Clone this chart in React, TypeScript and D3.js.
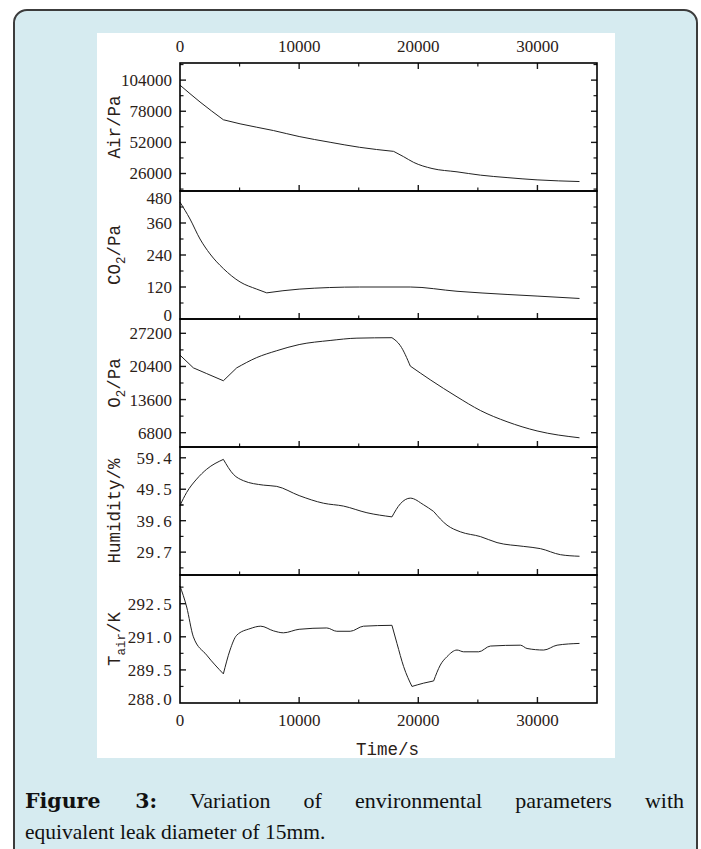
import { useLayoutEffect, useRef, useState } from "react";
import * as d3 from "d3";

// x axis
const timeTicks = [0, 10000, 20000, 30000];
const timeMinor = [5000, 15000, 25000];

// Air pressure
const airTime = [0, 1680, 3640, 5040, 7840, 10000, 12600, 15070, 17930, 18770, 19610, 21150, 23250, 25210, 27450, 29970, 33530];
const airPa = [99800, 85750, 70900, 67500, 61900, 56900, 52100, 47900, 44500, 40050, 35300, 30200, 27400, 24650, 22600, 20700, 19300];
const airTicks = [26000, 52000, 78000, 104000];
const airCorners = [3640, 17930];

// CO2 partial pressure
const co2Time = [0, 840, 1680, 2520, 3640, 5040, 6440, 7280, 10000, 15070, 19330, 23250, 27450, 29970, 33530];
const co2Pa = [438, 375, 300, 244, 189, 139, 112, 98, 112, 120, 120, 104, 92, 86, 77];
const co2Ticks = [0, 120, 240, 360, 480];
const co2Corners = [7280];

// O2 partial pressure
const o2Time = [0, 1120, 2240, 3640, 4760, 6440, 8120, 10000, 12600, 14850, 17790, 18490, 19330, 21000, 23250, 25210, 27450, 29970, 33530];
const o2Pa = [22720, 20110, 18930, 17460, 20110, 22220, 23630, 24890, 25730, 26210, 26300, 24680, 20470, 17670, 14160, 11360, 9050, 7160, 5750];
const o2Ticks = [6800, 13600, 20400, 27200];
const o2Corners = [1120, 3640, 4760, 17790, 19330];

// Relative humidity
const humTime = [0, 560, 1400, 2240, 3640, 4480, 5320, 7000, 8120, 10000, 12040, 13720, 15690, 17790, 18490, 19330, 20450, 21290, 22410, 23530, 25210, 26610, 28850, 30250, 31930, 33530];
const humPct = [44.4, 48.5, 52.7, 55.8, 58.9, 54.2, 52.2, 50.8, 50.4, 47.5, 45.1, 44.2, 42.1, 40.8, 44.9, 46.7, 44.6, 42.5, 38.2, 36.1, 34.6, 32.7, 31.5, 30.8, 28.9, 28.4];
const humTicks = [29.7, 39.6, 49.5, 59.4];
const humCorners = [3640, 17790, 21290];

// Air temperature
const tempTime = [0, 560, 1120, 2240, 3640, 4200, 4760, 5880, 6780, 7840, 8680, 10000, 12320, 13160, 14290, 15400, 17790, 18210, 18770, 19470, 20450, 21290, 21850, 22410, 23250, 23810, 25070, 26050, 28570, 29130, 30530, 31650, 33530];
const tempK = [293.3, 292.35, 291.0, 290.17, 289.32, 290.4, 291.07, 291.37, 291.48, 291.27, 291.18, 291.34, 291.4, 291.25, 291.25, 291.48, 291.52, 290.7, 289.65, 288.75, 288.9, 289.0, 289.72, 290.1, 290.4, 290.32, 290.32, 290.58, 290.62, 290.47, 290.4, 290.62, 290.7];
const tempTicks = [288.0, 289.5, 291.0, 292.5];
const tempCorners = [3640, 17790, 19470, 21290];

const W = 701;
const H = 849;
const left = 180;
const right = 597;
const top = 63;
const panelH = 128;

const serif = "'Liberation Serif', 'Times New Roman', serif";
const mono = "'Liberation Mono', 'DejaVu Sans Mono', monospace";
const labelInk = "#2b2118";
const ink = "#1a1a1a";

interface Seg {
  text: string;
  sub?: boolean;
}

// decimal labels: serif digits set on fixed cells (SimSun-like)
function cellDigits(text: string, cell: number) {
  const xs = text.split("").map((_, i) => -(text.length - i - 0.5) * cell);
  return <tspan x={xs.map((v) => v.toFixed(2)).join(" ")}>{text}</tspan>;
}

function titleSpans(segs: Seg[]) {
  let shifted = false;
  return segs.map((g, i) => {
    const dy = g.sub ? 5 : shifted ? -5 : 0;
    shifted = !!g.sub;
    return (
      <tspan key={i} dy={dy} fontSize={g.sub ? 12.5 : 17.5}>
        {g.text}
      </tspan>
    );
  });
}

interface Panel {
  key: string;
  title: Seg[];
  time: number[];
  values: number[];
  corners: number[];
  ticks: number[];
  domain: [number, number];
  format: (v: number) => string;
  cells: boolean;
}

const panels: Panel[] = [
  { key: "air", title: [{ text: "Air/Pa" }], time: airTime, values: airPa, corners: airCorners, ticks: airTicks, domain: [11400, 118300], format: (v) => String(v), cells: false },
  { key: "co2", title: [{ text: "CO" }, { text: "2", sub: true }, { text: "/Pa" }], time: co2Time, values: co2Pa, corners: co2Corners, ticks: co2Ticks, domain: [0, 480], format: (v) => String(v), cells: false },
  { key: "o2", title: [{ text: "O" }, { text: "2", sub: true }, { text: "/Pa" }], time: o2Time, values: o2Pa, corners: o2Corners, ticks: o2Ticks, domain: [3860, 30140], format: (v) => String(v), cells: false },
  { key: "hum", title: [{ text: "Humidity/%" }], time: humTime, values: humPct, corners: humCorners, ticks: humTicks, domain: [22.5, 62.8], format: d3.format(".1f"), cells: true },
  { key: "temp", title: [{ text: "T" }, { text: "air", sub: true }, { text: "/K" }], time: tempTime, values: tempK, corners: tempCorners, ticks: tempTicks, domain: [288.0, 293.8], format: d3.format(".1f"), cells: true },
];

const x = d3.scaleLinear().domain([0, 35000]).range([left, right]);

function PanelView({ panel, index }: { panel: Panel; index: number }) {
  const y0 = top + index * panelH;
  const y1 = y0 + panelH;
  const y = d3.scaleLinear().domain(panel.domain).range([y1, y0]);
  const step = panel.ticks[1] - panel.ticks[0];
  const minor = panel.ticks
    .flatMap((t) => [t - step / 2, t + step / 2])
    .filter((v, i, a) => a.indexOf(v) === i)
    .filter((v) => v > panel.domain[0] && v < panel.domain[1]);

  // split the series at its corners so each piece is smoothed on its own
  const pts = panel.time.map((t, i) => [t, panel.values[i]] as [number, number]);
  const pieces: [number, number][][] = [[]];
  pts.forEach((p) => {
    pieces[pieces.length - 1].push(p);
    if (panel.corners.includes(p[0])) pieces.push([p]);
  });
  const line = d3
    .line<[number, number]>()
    .x((d) => x(d[0]))
    .y((d) => y(d[1]))
    .curve(d3.curveMonotoneX);
  const d = pieces
    .filter((pc) => pc.length > 1)
    .map((pc, i) => {
      const s = line(pc) ?? "";
      return i === 0 ? s : s.replace(/^M[^LC]*/, "");
    })
    .join("");

  const isTop = index === 0;
  return (
    <g>
      <path d={d} fill="none" stroke="#222" strokeWidth={1} strokeLinejoin="miter" />
      {panel.ticks
        .filter((t) => y(t) > y0 + 0.5 && y(t) < y1 - 0.5)
        .map((t) => (
          <g key={`maj${t}`}>
            <line x1={left} x2={left + 6} y1={y(t)} y2={y(t)} stroke={ink} strokeWidth={1.4} />
            <line x1={right} x2={right - 6} y1={y(t)} y2={y(t)} stroke={ink} strokeWidth={1.4} />
          </g>
        ))}
      {minor.map((t) => (
        <g key={`min${t}`}>
          <line x1={left} x2={left + 3.5} y1={y(t)} y2={y(t)} stroke={ink} strokeWidth={1.2} />
          <line x1={right} x2={right - 3.5} y1={y(t)} y2={y(t)} stroke={ink} strokeWidth={1.2} />
        </g>
      ))}
      {timeTicks.slice(1).map((t) => (
        <g key={`xt${t}`}>
          <line x1={x(t)} x2={x(t)} y1={y1} y2={y1 - 6} stroke={ink} strokeWidth={1.4} />
          {isTop && <line x1={x(t)} x2={x(t)} y1={y0} y2={y0 + 6} stroke={ink} strokeWidth={1.4} />}
        </g>
      ))}
      {timeMinor.map((t) => (
        <g key={`xm${t}`}>
          <line x1={x(t)} x2={x(t)} y1={y1} y2={y1 - 3.5} stroke={ink} strokeWidth={1.2} />
          {isTop && <line x1={x(t)} x2={x(t)} y1={y0} y2={y0 + 3.5} stroke={ink} strokeWidth={1.2} />}
        </g>
      ))}
      <rect x={left} y={y0} width={right - left} height={panelH} fill="none" stroke="#000" strokeWidth={1.6} />
      {panel.ticks.map((t) => {
        const ty = Math.min(Math.max(y(t), y0 + 7), y1 - 4);
        return panel.cells ? (
          <text key={`lb${t}`} transform={`translate(172,${ty})`} dy="0.35em" textAnchor="middle" fontFamily={serif} fontSize={17} fill={labelInk}>
            {cellDigits(panel.format(t), 8.9)}
          </text>
        ) : (
          <text key={`lb${t}`} x={172} y={ty} dy="0.35em" textAnchor="end" fontFamily={serif} fontSize={17} fill={labelInk}>
            {panel.format(t)}
          </text>
        );
      })}
      <text
        transform={`translate(120,${(y0 + y1) / 2}) rotate(-90)`}
        textAnchor="middle"
        fontFamily={mono}
        fill={labelInk}
      >
        {titleSpans(panel.title)}
      </text>
    </g>
  );
}

export default function App() {
  const line1Ref = useRef<SVGTextElement>(null);
  const [wordGap, setWordGap] = useState(0);
  const capLeft = 25;
  const capRight = 684;

  useLayoutEffect(() => {
    const el = line1Ref.current;
    if (!el) return;
    el.style.wordSpacing = "0px";
    const w = el.getComputedTextLength();
    setWordGap((capRight - capLeft - w) / 6);
  }, []);

  const bottom = top + panels.length * panelH;

  return (
    <svg width={W} height={H} style={{ position: "absolute", left: 0, top: 0, display: "block" }}>
      <rect x={0} y={0} width={W} height={H} fill="#fff" />
      <rect x={14} y={10} width={683} height={880} rx={13} fill="#d6ebf0" stroke="#3c3c3c" strokeWidth={2} />
      <rect x={97} y={33} width={518} height={725} fill="#fff" />

      {timeTicks.map((t) => (
        <text key={`top${t}`} x={x(t)} y={52} textAnchor="middle" fontFamily={serif} fontSize={17} fill={labelInk}>
          {t}
        </text>
      ))}

      {panels.map((p, i) => (
        <PanelView key={p.key} panel={p} index={i} />
      ))}

      {timeTicks.map((t) => (
        <text key={`bot${t}`} x={x(t)} y={bottom + 23} textAnchor="middle" fontFamily={serif} fontSize={17} fill={labelInk}>
          {t}
        </text>
      ))}
      <text x={(left + right) / 2 - 1} y={bottom + 52} textAnchor="middle" fontFamily={mono} fontSize={17.5} fill={labelInk}>
        Time/s
      </text>

      <text
        ref={line1Ref}
        x={capLeft}
        y={808}
        fontFamily={serif}
        fontSize={22}
        fill="#111"
        style={{ wordSpacing: `${wordGap}px` }}
      >
        <tspan fontFamily="'DejaVu Serif', serif" fontWeight="bold" fontSize={20.5}>Figure 3:</tspan> Variation of environmental parameters with
      </text>
      <text x={capLeft} y={839} fontFamily={serif} fontSize={21.5} fill="#111">
        equivalent leak diameter of 15mm.
      </text>
    </svg>
  );
}
